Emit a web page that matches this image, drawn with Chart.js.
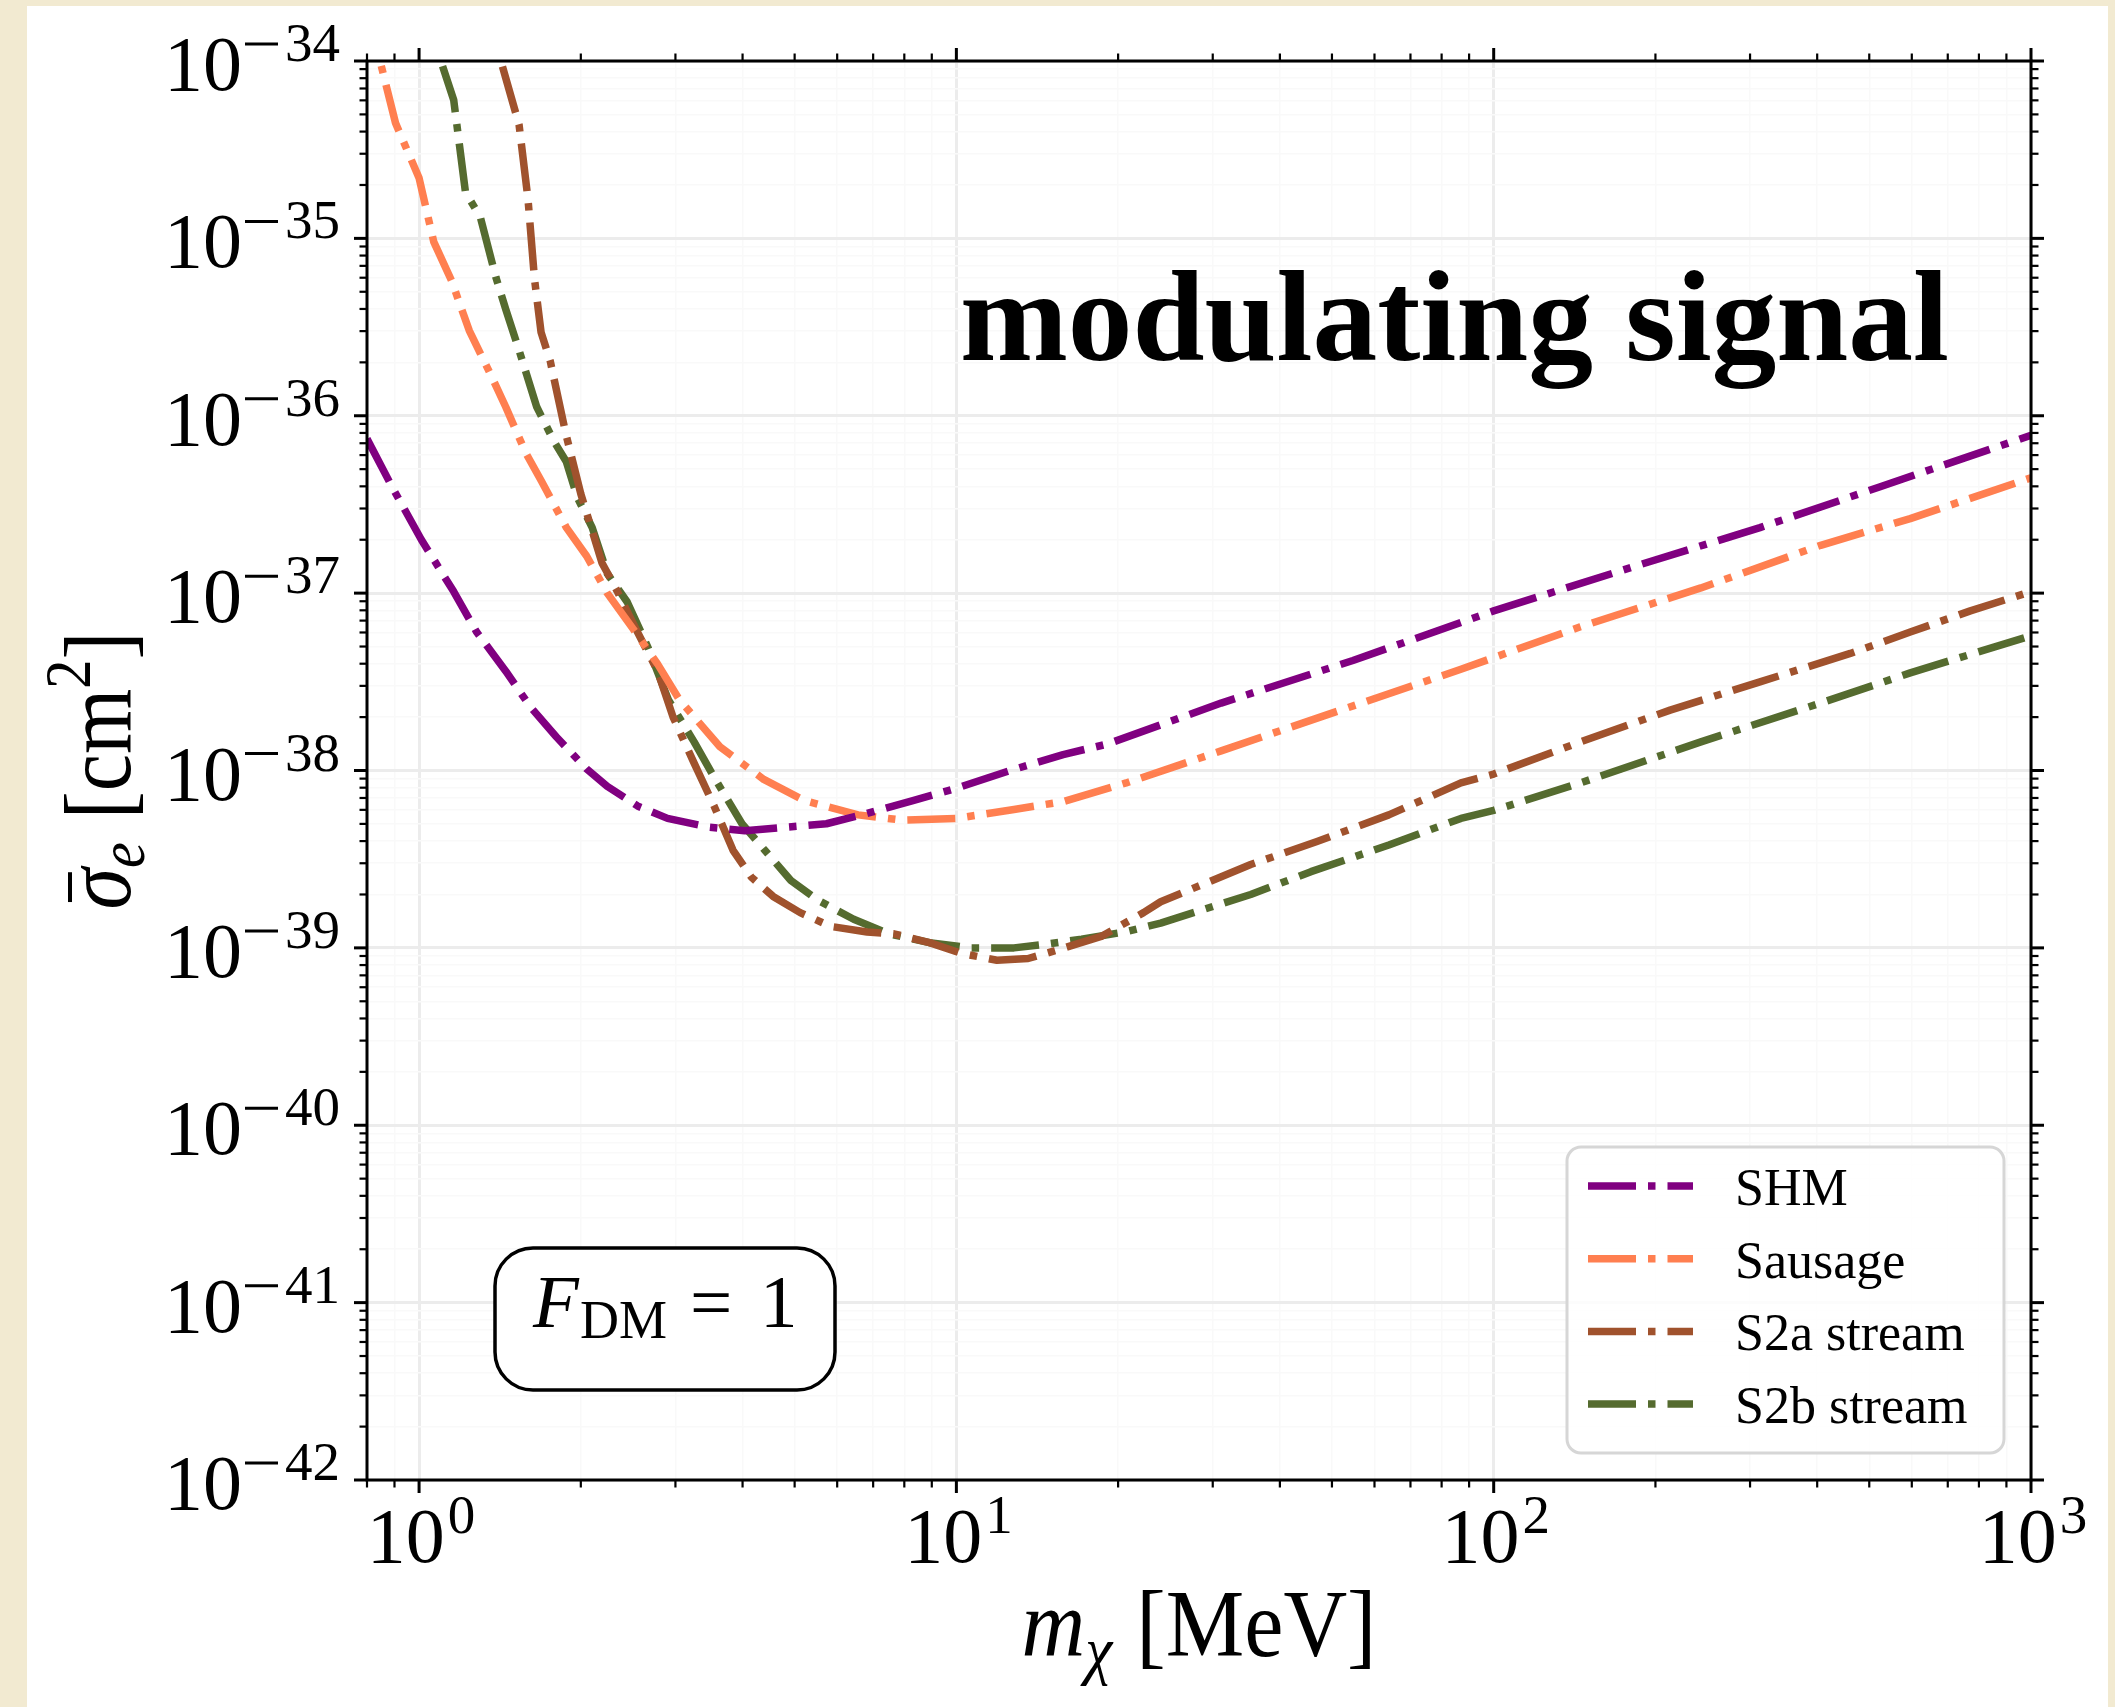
<!DOCTYPE html>
<html>
<head>
<meta charset="utf-8">
<script src="https://cdn.jsdelivr.net/npm/chart.js@4.4.1/dist/chart.umd.min.js"></script>
<style>
  html, body { margin: 0; padding: 0; }
  body { width: 2115px; height: 1707px; background: #f2ead1; position: relative; overflow: hidden; }
  #paper { position: absolute; left: 27px; top: 6px; width: 2081px; height: 1701px; background: #fff; }
  #chart { position: absolute; left: 0; top: 0; }
</style>
</head>
<body>
<div id="paper"></div>
<canvas id="chart" width="2115" height="1707"></canvas>
<script>
// ---- data (m_chi in MeV, sigma_e in cm^2) ----
const shmMass = [0.80, 0.894, 1.01, 1.16, 1.28, 1.45, 1.61, 1.80, 2.05, 2.24, 2.55, 2.90, 3.47, 4.04, 4.81, 5.73, 6.67, 8.30, 10.0, 12.6, 15.8, 19.1, 31.1, 54.7, 100, 187.5, 313, 524, 1000];
const shmSigma = [7.41e-37, 3.89e-37, 2.00e-37, 1.02e-37, 6.03e-38, 3.63e-38, 2.29e-38, 1.55e-38, 1.02e-38, 8.13e-39, 6.31e-39, 5.37e-39, 4.79e-39, 4.57e-39, 4.79e-39, 5.01e-39, 5.62e-39, 6.76e-39, 7.94e-39, 1.00e-38, 1.23e-38, 1.41e-38, 2.40e-38, 4.17e-38, 7.94e-38, 1.45e-37, 2.34e-37, 3.98e-37, 7.76e-37];

const sausageMass = [0.80, 0.846, 0.904, 1.0, 1.065, 1.15, 1.24, 1.355, 1.45, 1.58, 1.69, 1.88, 2.05, 2.24, 2.50, 2.78, 3.05, 3.63, 4.38, 5.22, 6.56, 7.94, 10.0, 12.8, 15.8, 20.7, 31.1, 51.9, 86.9, 145, 243, 406, 596, 1000];
const sausageSigma = [2.0e-34, 1.0e-34, 4.47e-35, 2.19e-35, 9.55e-36, 5.75e-36, 3.02e-36, 1.74e-36, 1.12e-36, 6.17e-37, 4.27e-37, 2.34e-37, 1.62e-37, 1.0e-37, 6.31e-38, 3.98e-38, 2.51e-38, 1.36e-38, 8.91e-39, 6.76e-39, 5.62e-39, 5.25e-39, 5.37e-39, 6.03e-39, 6.68e-39, 8.51e-39, 1.29e-38, 2.19e-38, 3.72e-38, 6.46e-38, 1.07e-37, 1.86e-37, 2.63e-37, 4.47e-37];

const s2aMass = [1.30, 1.42, 1.535, 1.595, 1.64, 1.687, 1.754, 1.875, 2.0, 2.19, 2.34, 2.55, 2.78, 2.97, 3.25, 3.54, 3.84, 4.15, 4.56, 5.12, 5.84, 6.82, 7.65, 8.91, 10.2, 11.9, 13.6, 15.5, 18.6, 22.3, 24.0, 35.3, 46.9, 63.8, 86.9, 100, 145, 213, 313, 461, 596, 771, 1000];
const s2aSigma = [2.51e-34, 1.0e-34, 4.37e-35, 1.66e-35, 5.89e-36, 2.95e-36, 2.04e-36, 7.94e-37, 3.63e-37, 1.48e-37, 1.02e-37, 6.03e-38, 3.63e-38, 2.0e-38, 1.10e-38, 6.31e-39, 3.55e-39, 2.51e-39, 1.95e-39, 1.58e-39, 1.32e-39, 1.23e-39, 1.20e-39, 1.07e-39, 9.33e-40, 8.51e-40, 8.71e-40, 9.77e-40, 1.16e-39, 1.58e-39, 1.82e-39, 2.95e-39, 3.98e-39, 5.62e-39, 8.51e-39, 9.55e-39, 1.45e-38, 2.19e-38, 3.16e-38, 4.57e-38, 6.03e-38, 7.94e-38, 1.02e-37];

const s2bMass = [1.00, 1.098, 1.16, 1.22, 1.30, 1.39, 1.45, 1.535, 1.656, 1.787, 1.88, 1.97, 2.10, 2.24, 2.44, 2.67, 2.91, 3.25, 3.56, 3.99, 4.40, 4.92, 5.52, 6.44, 7.5, 8.91, 10.6, 12.8, 14.7, 17.1, 20.6, 24.0, 35.3, 45.7, 63.8, 86.9, 100, 145, 243, 406, 596, 1000];
const s2bSigma = [2.51e-34, 1.0e-34, 6.03e-35, 1.82e-35, 1.32e-35, 6.03e-36, 3.98e-36, 2.34e-36, 1.12e-36, 7.08e-37, 5.5e-37, 3.47e-37, 2.34e-37, 1.29e-37, 8.91e-38, 4.90e-38, 2.51e-38, 1.45e-38, 8.91e-39, 5.01e-39, 3.55e-39, 2.40e-39, 1.86e-39, 1.45e-39, 1.20e-39, 1.07e-39, 1.0e-39, 1.0e-39, 1.05e-39, 1.12e-39, 1.23e-39, 1.38e-39, 2.0e-39, 2.69e-39, 3.80e-39, 5.37e-39, 5.96e-39, 8.51e-39, 1.45e-38, 2.40e-38, 3.55e-38, 5.75e-38];

const seriesLabels = ['SHM', 'Sausage', 'S2a stream', 'S2b stream'];
const seriesColors = ['#800080', '#ff7f50', '#a0522d', '#556b2f'];

const xMin = 0.8, xMax = 1000;
const yMin = 1e-42, yMax = 1e-34;
const xTickExps = [0, 1, 2, 3];
const yTickExps = [-42, -41, -40, -39, -38, -37, -36, -35, -34];

const serif = '"Liberation Serif", "DejaVu Serif", serif';
const lineW = 7.5;
const dashdot = [48, 12, 7.5, 12];

// ticks at 1..9 x 10^n inside the range
function decadeTicks(min, max) {
  const out = [];
  for (let e = Math.floor(Math.log10(min)); e <= Math.ceil(Math.log10(max)); e++) {
    for (let k = 1; k <= 9; k++) {
      const v = k * Math.pow(10, e);
      if (v >= min * 0.999 && v <= max * 1.001) out.push({ value: v, major: k === 1 });
    }
  }
  return out;
}

function toPoints(xs, ys) {
  return xs.map((m, i) => ({ x: m, y: ys[i] }));
}

// draw a row of text pieces, optionally squeezed to a width
function drawPieces(ctx, pieces, x, y, align, targetW) {
  let w = 0;
  pieces.forEach(p => {
    ctx.font = p.font;
    p.w = ctx.measureText(p.text).width;
    w += p.w + (p.gap || 0);
  });
  const s = targetW ? targetW / w : 1;
  ctx.save();
  ctx.translate(x, y);
  ctx.scale(s, 1);
  let cx = align === 'center' ? -w / 2 : (align === 'right' ? -w : 0);
  pieces.forEach(p => {
    ctx.font = p.font;
    ctx.fillText(p.text, cx, p.dy || 0);
    if (p.bar) {
      ctx.lineWidth = 4;
      ctx.beginPath();
      ctx.moveTo(cx + p.w * 0.18, p.bar);
      ctx.lineTo(cx + p.w * 0.9, p.bar);
      ctx.stroke();
    }
    cx += p.w + (p.gap || 0);
  });
  ctx.restore();
}

function line(ctx, x1, y1, x2, y2) {
  ctx.beginPath();
  ctx.moveTo(x1, y1);
  ctx.lineTo(x2, y2);
  ctx.stroke();
}

// "10" with a superscript exponent, minus drawn as a bar like TeX
function drawPow(ctx, exp, x, baseY, expY, align) {
  ctx.font = '78px ' + serif;
  const w10 = ctx.measureText('10').width;
  const digits = String(Math.abs(exp));
  ctx.font = '55px ' + serif;
  const wd = ctx.measureText(digits).width;
  const neg = exp < 0;
  const wExp = (neg ? 40 : 0) + wd;
  const total = w10 + 3 + wExp;
  let left = align === 'right' ? x - total : x - total / 2 + 2;
  ctx.font = '78px ' + serif;
  ctx.fillText('10', left, baseY);
  let ex = left + w10 + 3;
  if (neg) {
    ctx.lineWidth = 3;
    line(ctx, ex, expY - 17, ex + 33, expY - 17);
    ex += 40;
  }
  ctx.font = '55px ' + serif;
  ctx.fillText(digits, ex, expY);
}

function roundRect(ctx, x, y, w, h, r) {
  ctx.beginPath();
  ctx.moveTo(x + r, y);
  ctx.arcTo(x + w, y, x + w, y + h, r);
  ctx.arcTo(x + w, y + h, x, y + h, r);
  ctx.arcTo(x, y + h, x, y, r);
  ctx.arcTo(x, y, x + w, y, r);
  ctx.closePath();
}

const decorations = {
  id: 'decorations',
  afterDatasetsDraw(chart) {
    const { ctx, chartArea: a, scales: { x, y } } = chart;
    ctx.save();
    ctx.strokeStyle = '#000';
    ctx.fillStyle = '#000';
    ctx.lineCap = 'butt';

    // tick marks, outward on all four sides
    x.ticks.forEach(t => {
      const px = x.getPixelForValue(t.value);
      const len = t.major ? 13 : 7.5;
      ctx.lineWidth = t.major ? 3 : 2.2;
      line(ctx, px, a.bottom, px, a.bottom + len);
      line(ctx, px, a.top, px, a.top - len);
    });
    y.ticks.forEach(t => {
      const py = y.getPixelForValue(t.value);
      const len = t.major ? 13 : 7.5;
      ctx.lineWidth = t.major ? 3 : 2.2;
      line(ctx, a.left, py, a.left - len, py);
      line(ctx, a.right, py, a.right + len, py);
    });

    // frame
    ctx.lineWidth = 3;
    ctx.strokeRect(a.left, a.top, a.right - a.left, a.bottom - a.top);

    // tick labels
    ctx.textBaseline = 'alphabetic';
    xTickExps.forEach(e => {
      const px = x.getPixelForValue(Math.pow(10, e));
      drawPow(ctx, e, px, a.bottom + 82, a.bottom + 53, 'center');
    });
    yTickExps.forEach(e => {
      const py = y.getPixelForValue(Math.pow(10, e));
      drawPow(ctx, e, a.left - 27, py + 29, py, 'right');
    });

    // axis titles
    drawPieces(ctx, [
      { text: 'm', font: 'italic 95px ' + serif },
      { text: 'χ', font: 'italic 66px ' + serif, dy: 16, gap: 26 },
      { text: '[MeV]', font: '95px ' + serif }
    ], (a.left + a.right) / 2, 1656, 'center', 355);

    ctx.save();
    ctx.translate(130, (a.top + a.bottom) / 2);
    ctx.rotate(-Math.PI / 2);
    drawPieces(ctx, [
      { text: 'σ', font: 'italic 95px ' + serif, bar: -60 },
      { text: 'e', font: 'italic 66px ' + serif, dy: 14, gap: 26 },
      { text: '[cm', font: '95px ' + serif },
      { text: '2', font: '66px ' + serif, dy: -40 },
      { text: ']', font: '95px ' + serif }
    ], 0, 0, 'center', 278);
    ctx.restore();

    // annotation text
    drawPieces(ctx, [{ text: 'modulating signal', font: 'bold 130px ' + serif }], 1949, 360, 'right', 989);

    // F_DM = 1 box
    roundRect(ctx, 495, 1248, 340, 142, 38);
    ctx.fillStyle = '#fff';
    ctx.fill();
    ctx.lineWidth = 3.5;
    ctx.stroke();
    ctx.fillStyle = '#000';
    ctx.font = 'italic 75px ' + serif;
    ctx.fillText('F', 533, 1327);
    ctx.font = '54px ' + serif;
    ctx.fillText('DM', 580, 1338);
    ctx.font = '75px ' + serif;
    ctx.fillText('=', 690, 1327);
    ctx.fillText('1', 760, 1327);

    // legend
    roundRect(ctx, 1567, 1147, 437, 306, 14);
    ctx.fillStyle = 'rgba(255,255,255,0.85)';
    ctx.fill();
    ctx.strokeStyle = '#d6d6d6';
    ctx.lineWidth = 3;
    ctx.stroke();
    chart.data.datasets.forEach((ds, i) => {
      const ry = 1186 + i * 72.7;
      ctx.strokeStyle = ds.borderColor;
      ctx.lineWidth = lineW;
      ctx.setLineDash(dashdot);
      line(ctx, 1588, ry, 1693, ry);
      ctx.setLineDash([]);
      ctx.fillStyle = '#000';
      ctx.font = '52px ' + serif;
      ctx.fillText(ds.label, 1735, ry + 19);
    });

    ctx.restore();
  }
};

const datasets = [
  toPoints(shmMass, shmSigma),
  toPoints(sausageMass, sausageSigma),
  toPoints(s2aMass, s2aSigma),
  toPoints(s2bMass, s2bSigma)
].map((pts, i) => ({
  label: seriesLabels[i],
  data: pts,
  borderColor: seriesColors[i],
  borderWidth: lineW,
  borderDash: dashdot,
  borderCapStyle: 'butt',
  borderJoinStyle: 'round',
  pointRadius: 0,
  tension: 0,
  fill: false,
  clip: 0
}));

const gridColor = c => (c.tick && c.tick.major) ? '#ececec' : '#f9f9f9';
const gridWidth = c => (c.tick && c.tick.major) ? 3 : 1.5;

new Chart(document.getElementById('chart'), {
  type: 'line',
  data: { datasets: datasets },
  options: {
    responsive: false,
    animation: false,
    devicePixelRatio: 1,
    layout: { padding: { left: 367, top: 61, right: 84, bottom: 227 } },
    plugins: { legend: { display: false }, tooltip: { enabled: false } },
    scales: {
      x: {
        type: 'logarithmic', min: xMin, max: xMax,
        afterBuildTicks: s => { s.ticks = decadeTicks(xMin, xMax); },
        ticks: { display: false },
        grid: { drawTicks: false, color: gridColor, lineWidth: gridWidth },
        border: { display: false }
      },
      y: {
        type: 'logarithmic', min: yMin, max: yMax,
        afterBuildTicks: s => { s.ticks = decadeTicks(yMin, yMax); },
        ticks: { display: false },
        grid: { drawTicks: false, color: gridColor, lineWidth: gridWidth },
        border: { display: false }
      }
    }
  },
  plugins: [decorations]
});
</script>
</body>
</html>
